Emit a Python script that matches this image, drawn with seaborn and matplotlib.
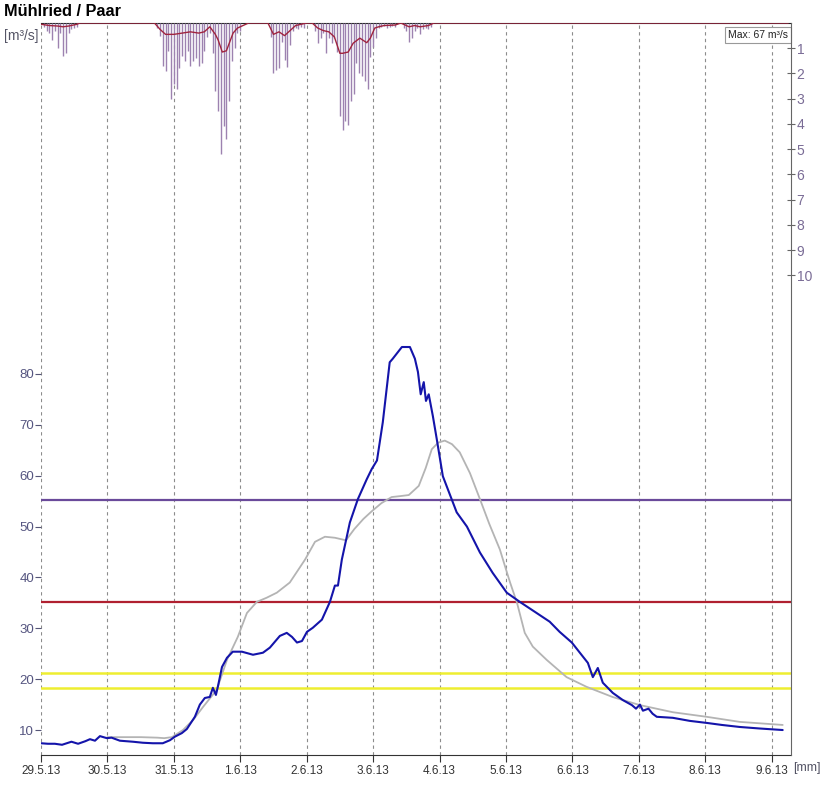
import numpy as np
import pandas as pd
import seaborn as sns
import matplotlib.pyplot as plt
import matplotlib.dates as mdates

sns.set_style('white')
plt.rcParams['font.family'] = ['Liberation Sans', 'DejaVu Sans']

start = pd.Timestamp('2013-05-29 00:00')

# observed discharge [m3/s] (hours since 29.5.13 00:00)
obs_hours = [0, 2.5, 5, 7.6, 11, 13.4, 16, 17.7, 19.5, 21.3, 23.8, 25.5, 28.5, 33.2, 36.8,
             40.4, 44.0, 46.6, 48.4, 50.9, 52.7, 55.6, 57.4, 58.1, 59.2, 61.0, 62.1, 63.2,
             63.9, 65.4, 67.2, 69.3, 72.6, 76.6, 80.2, 82.7, 86.3, 88.8, 90.7, 92.5, 94.3,
             96.1, 98.2, 101.5, 104.4, 106.2, 107.3, 108.7, 111.6, 114.5, 117.7, 119.5,
             121.4, 123.5, 126.0, 127.1, 130.4, 133.3, 135.1, 136.2, 137.2, 138.3, 139.1,
             140.1, 141.6, 143.0, 145.2, 150.2, 153.9, 158.6, 163.2, 168.3, 173.0, 179.1,
             183.8, 187.4, 191.8, 194.7, 197.6, 199.4, 201.2, 203.0, 206.6, 210.2, 213.5,
             215.0, 216.4, 217.5, 219.5, 221.0, 222.5, 228.3, 234.4, 240.5, 246.0, 252.5,
             259.7, 268.0]
obs_q = [7.4, 7.3, 7.3, 7.1, 7.7, 7.3, 7.8, 8.2, 7.9, 8.8, 8.4, 8.5, 7.9, 7.7, 7.5,
         7.4, 7.4, 8.0, 8.7, 9.4, 10.2, 12.6, 15.0, 15.5, 16.3, 16.5, 18.3, 16.9,
         18.5, 22.4, 24.2, 25.4, 25.4, 24.8, 25.2, 26.2, 28.5, 29.1, 28.3, 27.2, 27.5,
         29.3, 30.1, 31.7, 35.2, 38.4, 38.4, 43.5, 50.8, 55.4, 59.3, 61.3,
         63.0, 70.5, 82.3, 83.0, 85.3, 85.3, 83.0, 80.4, 76.0, 78.4, 74.7,
         76.0, 71.7, 67.2, 59.9, 52.8, 50.0, 44.9, 40.9, 37.0, 35.2, 33.0,
         31.3, 29.3, 27.2, 25.2, 23.2, 20.4, 22.2, 19.3, 17.3, 15.9, 14.9,
         14.2, 15.0, 13.8, 14.2, 13.2, 12.6, 12.4, 11.8, 11.4, 11.0, 10.6,
         10.3, 10.0]

# simulated discharge [m3/s]
sim_hours = [24, 30, 36, 42, 44.5, 47.3, 51.3, 55.0, 58.5, 63.5, 67.2, 71.1, 74.4, 78.0,
             81.5, 85.2, 89.9, 95.4, 99.0, 102.6, 106.2, 110.2, 113.2, 116.5, 119.5, 123.0,
             126.7, 130.0, 132.9, 136.5, 139.0, 141.2, 143.5, 145.9, 148.5, 151.3, 155.0,
             158.6, 162.0, 165.8, 168.0, 169.5, 172.0, 174.8, 177.7, 182.7, 189.9, 197.1,
             206.5, 216.4, 228.3, 240.5, 252.5, 268.0]
sim_q = [8.6, 8.6, 8.6, 8.5, 8.4, 8.6, 10.0, 12.0, 14.5, 17.9, 23.8, 28.3, 33.0, 35.2,
         36.0, 37.0, 39.0, 43.5, 47.0, 48.0, 47.8, 47.3, 49.5, 51.5, 53.0, 54.6,
         55.8, 56.0, 56.2, 58.0, 61.5, 65.2, 66.5, 66.9, 66.2, 64.6, 60.5,
         55.4, 50.5, 45.5, 41.6, 39.0, 35.0, 29.1, 26.4, 23.8, 20.4, 18.5,
         16.5, 14.9, 13.5, 12.6, 11.6, 11.0]

# hourly precipitation [mm]
rain_hours = [1, 2, 3, 4, 5, 6, 7, 8, 9, 10, 11, 12, 13,
              42, 43, 44, 45, 46, 47, 48, 49, 50, 51, 52, 53, 54, 55, 56, 57, 58, 59, 60,
              61, 62, 63, 64, 65, 66, 67, 68, 69, 70, 71, 72,
              83, 84, 85, 86, 87, 88, 89, 90, 91, 92, 93, 94, 95,
              99, 100, 101, 102, 103, 104, 105, 106, 107, 108, 109, 110, 111, 112, 113,
              114, 115, 116, 117, 118, 119, 120, 121, 122, 123, 124, 125, 126, 127, 128,
              131, 132, 133, 134, 135, 136, 137, 138, 139, 140, 141]
rain_mm = [0.15, 0.3, 0.4, 0.67, 0.3, 1.0, 0.4, 1.3, 1.2, 0.4, 0.25, 0.2, 0.15,
           0.2, 0.5, 1.7, 1.9, 1.1, 3.0, 2.4, 2.6, 1.8, 1.3, 1.5, 1.1, 1.7, 1.5, 1.4, 1.7, 1.6, 1.1, 0.55,
           0.4, 1.2, 2.7, 3.5, 5.2, 4.1, 4.6, 3.1, 1.5, 1.0, 0.4, 0.3,
           0.55, 2.0, 1.85, 1.8, 0.75, 1.47, 1.75, 0.87, 0.3, 0.2, 0.25, 0.15, 0.2,
           0.3, 0.8, 0.6, 0.4, 1.2, 0.6, 0.8, 0.6, 1.15, 3.7, 4.25, 3.9, 4.05, 3.1, 2.8,
           1.6, 2.0, 2.1, 2.3, 2.6, 1.35, 0.95, 0.6, 0.2, 0.15, 0.1, 0.2, 0.15, 0.1, 0.15,
           0.2, 0.3, 0.75, 0.6, 0.3, 0.2, 0.45, 0.25, 0.2, 0.25, 0.15]

# smoothed precipitation line [mm]
smooth_hours = [0, 3, 6, 8, 10, 13, 14, 41, 43, 45, 48, 51, 54, 57, 59, 61, 63, 64, 65.5,
                67, 69.4, 71, 73, 75, 82, 84, 86, 88, 90, 92, 94, 96, 98, 100, 102, 104,
                106, 108, 109, 111, 112.8, 115.2, 117.7, 119, 120.6, 122, 124, 128, 130,
                133, 135, 137, 140, 142, 270]
smooth_mm = [0.05, 0.1, 0.12, 0.15, 0.12, 0.05, 0, 0, 0.25, 0.45, 0.45, 0.4, 0.35, 0.4, 0.35,
             0.15, 0.45, 0.67, 1.15, 1.1, 0.4, 0.2, 0.1, 0, 0, 0.45, 0.35, 0.5, 0.3, 0.1,
             0.05, 0, 0, 0.2, 0.3, 0.35, 0.55, 1.2, 1.2, 1.15, 0.8, 0.6, 0.78, 0.6, 0.2,
             0.15, 0.1, 0.08, 0, 0.15, 0.1, 0.15, 0.1, 0, 0]

# thresholds [m3/s]
purple_level = 55.2
red_level = 35.2
yellow_levels = [21.3, 18.3]

obs = pd.DataFrame({'time': start + pd.to_timedelta(obs_hours, unit='h'), 'q': obs_q})
sim = pd.DataFrame({'time': start + pd.to_timedelta(sim_hours, unit='h'), 'q': sim_q})
rain = pd.DataFrame({'time': start + pd.to_timedelta(rain_hours, unit='h'), 'mm': rain_mm})
smooth = pd.DataFrame({'time': start + pd.to_timedelta(smooth_hours, unit='h'), 'mm': smooth_mm})

fig = plt.figure(figsize=(8.21, 7.99), dpi=100)
ax = fig.add_axes([41 / 821, 44 / 799, 750 / 821, 732 / 799])

ax.axhline(purple_level, color='#6a4a9a', lw=1.6, zorder=2)
ax.axhline(red_level, color='#b02030', lw=1.6, zorder=2)
for lv in yellow_levels:
    ax.axhline(lv, color='#eeee30', lw=1.8, zorder=2)

sns.lineplot(data=sim, x='time', y='q', ax=ax, color='#b4b4b4', lw=1.3, zorder=3)
sns.lineplot(data=obs, x='time', y='q', ax=ax, color='#1414aa', lw=1.5, zorder=4)

ax.set_xlim(start, start + pd.Timedelta(hours=271))
ax.set_ylim(5.09, 149.0)
ax.set_yticks([10, 20, 30, 40, 50, 60, 70, 80])
ax.xaxis.set_major_locator(mdates.DayLocator())
ax.xaxis.set_major_formatter(mdates.DateFormatter('%-d.%-m.%y'))
ax.grid(axis='x', color='#8c8c8c', lw=0.8, linestyle=(0, (3, 3)))
ax.grid(axis='y', visible=False)
ax.set_xlabel('')
ax.set_ylabel('')
ax.tick_params(axis='x', direction='out', length=5, width=0.8, colors='#333333',
               labelsize=8.5, pad=2, bottom=True)
ax.tick_params(axis='y', direction='out', length=4, width=0.8, colors='#555577',
               labelcolor='#555580', labelsize=9.5, pad=1, left=True)
ax.spines['left'].set_visible(False)
ax.spines['right'].set_visible(False)
ax.spines['bottom'].set_color('#333333')
ax.spines['top'].set_color('#222222')

# precipitation on inverted right axis
ax2 = ax.twinx()
ax2.vlines(rain['time'], 0, rain['mm'], color='#9d82b0', lw=1.0)
sns.lineplot(data=smooth, x='time', y='mm', ax=ax2, color='#a0243f', lw=1.0)
ax2.set_ylim(29.0, 0)
ax2.set_yticks(range(1, 11))
ax2.set_ylabel('')
ax2.set_xlabel('')
ax2.tick_params(axis='y', direction='inout', length=6, width=0.8, colors='#666666',
                labelcolor='#7a6c96', labelsize=10, pad=1, right=True)
for s in ['left', 'top', 'bottom']:
    ax2.spines[s].set_visible(False)
ax2.spines['right'].set_color('#666666')
ax2.set_xlim(start, start + pd.Timedelta(hours=271))

ax.text(0.996, 0.99, 'Max: 67 m³/s', transform=ax.transAxes, ha='right', va='top',
        fontsize=7.5, color='#222222', zorder=6,
        bbox=dict(facecolor='white', edgecolor='#999999', boxstyle='square,pad=0.3', lw=0.8))

fig.text(4 / 821, 1 - 11 / 799, 'Mühlried / Paar', fontsize=11.8, fontweight='bold',
         ha='left', va='center', color='black')
fig.text(4 / 821, 1 - 36 / 799, '[m³/s]', fontsize=10, ha='left', va='center', color='#555566')
fig.text(793 / 821, 1 - 768 / 799, '[mm]', fontsize=9, ha='left', va='center', color='#555566')

fig.savefig('out.png', dpi=100)
